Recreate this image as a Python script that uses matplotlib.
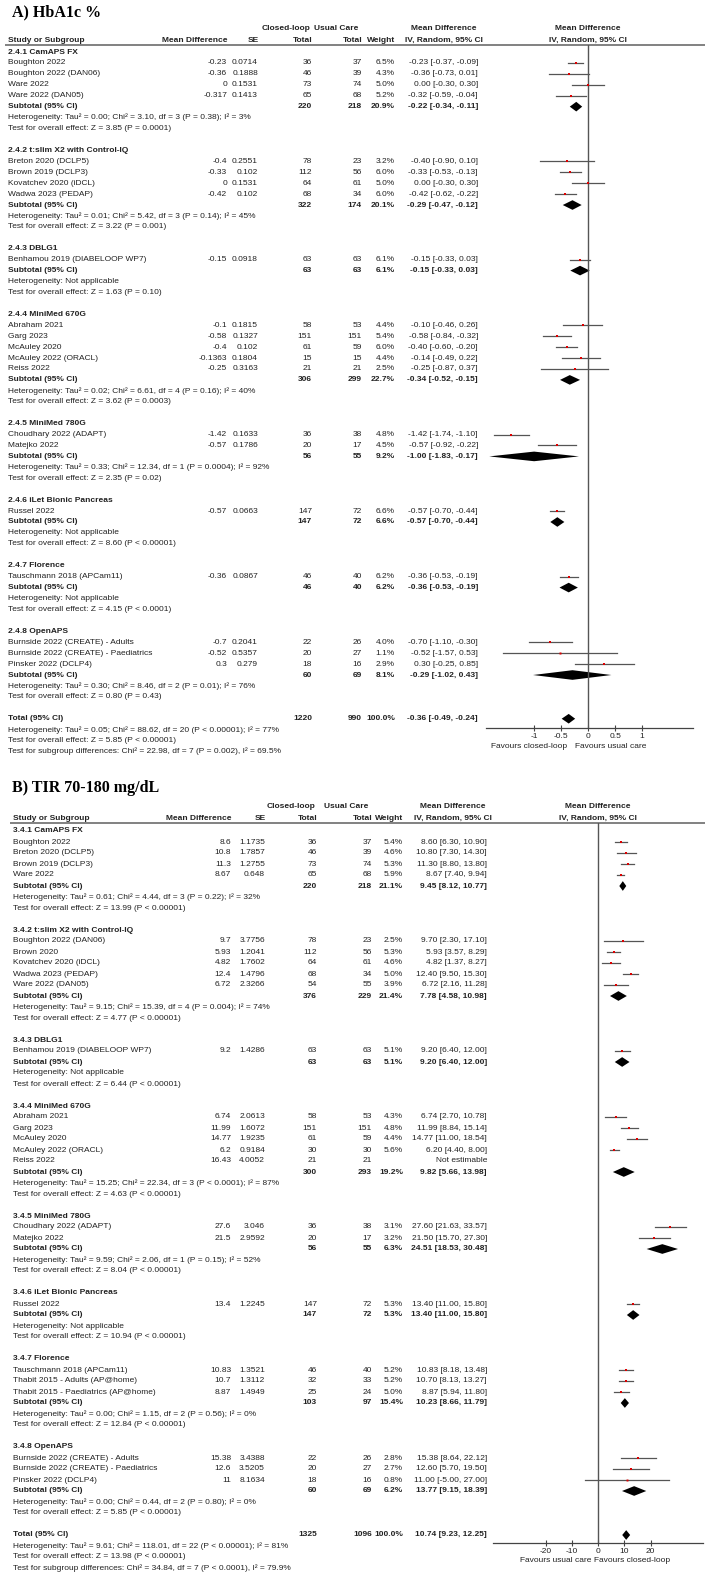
import numpy as np
import matplotlib.pyplot as plt

W, H = 708, 1575

# ---------------- A) HbA1c % ----------------
a_groups = ['2.4.1 CamAPS FX', '2.4.2 t:slim X2 with Control-IQ', '2.4.3 DBLG1',
            '2.4.4 MiniMed 670G', '2.4.5 MiniMed 780G', '2.4.6 iLet Bionic Pancreas',
            '2.4.7 Florence', '2.4.8 OpenAPS']
a_study = ['Boughton 2022', 'Boughton 2022 (DAN06)', 'Ware 2022', 'Ware 2022 (DAN05)',
           'Breton 2020 (DCLP5)', 'Brown 2019 (DCLP3)', 'Kovatchev 2020 (iDCL)', 'Wadwa 2023 (PEDAP)',
           'Benhamou 2019 (DIABELOOP WP7)',
           'Abraham 2021', 'Garg 2023', 'McAuley 2020', 'McAuley 2022 (ORACL)', 'Reiss 2022',
           'Choudhary 2022 (ADAPT)', 'Matejko 2022',
           'Russel 2022',
           'Tauschmann 2018 (APCam11)',
           'Burnside 2022 (CREATE) - Adults', 'Burnside 2022 (CREATE) - Paediatrics', 'Pinsker 2022 (DCLP4)']
a_grp = [0, 0, 0, 0, 1, 1, 1, 1, 2, 3, 3, 3, 3, 3, 4, 4, 5, 6, 7, 7, 7]
a_md = [-0.23, -0.36, 0, -0.317, -0.4, -0.33, 0, -0.42, -0.15, -0.1, -0.58, -0.4, -0.1363, -0.25,
        -1.42, -0.57, -0.57, -0.36, -0.7, -0.52, 0.3]
a_se = [0.0714, 0.1888, 0.1531, 0.1413, 0.2551, 0.102, 0.1531, 0.102, 0.0918, 0.1815, 0.1327, 0.102,
        0.1804, 0.3163, 0.1633, 0.1786, 0.0663, 0.0867, 0.2041, 0.5357, 0.279]
a_n1 = [36, 46, 73, 65, 78, 112, 64, 68, 63, 58, 151, 61, 15, 21, 36, 20, 147, 46, 22, 20, 18]
a_n2 = [37, 39, 74, 68, 23, 56, 61, 34, 63, 53, 151, 59, 15, 21, 38, 17, 72, 40, 26, 27, 16]
a_wt = [6.5, 4.3, 5.0, 5.2, 3.2, 6.0, 5.0, 6.0, 6.1, 4.4, 5.4, 6.0, 4.4, 2.5, 4.8, 4.5, 6.6, 6.2, 4.0, 1.1, 2.9]
a_est = [-0.23, -0.36, 0.00, -0.32, -0.40, -0.33, 0.00, -0.42, -0.15, -0.10, -0.58, -0.40, -0.14, -0.25,
         -1.42, -0.57, -0.57, -0.36, -0.70, -0.52, 0.30]
a_lo = [-0.37, -0.73, -0.30, -0.59, -0.90, -0.53, -0.30, -0.62, -0.33, -0.46, -0.84, -0.60, -0.49, -0.87,
        -1.74, -0.92, -0.70, -0.53, -1.10, -1.57, -0.25]
a_hi = [-0.09, 0.01, 0.30, -0.04, 0.10, -0.13, 0.30, -0.22, 0.03, 0.26, -0.32, -0.20, 0.22, 0.37,
        -1.10, -0.22, -0.44, -0.19, -0.30, 0.53, 0.85]
a_sub_n1 = [220, 322, 63, 306, 56, 147, 46, 60]
a_sub_n2 = [218, 174, 63, 299, 55, 72, 40, 69]
a_sub_wt = [20.9, 20.1, 6.1, 22.7, 9.2, 6.6, 6.2, 8.1]
a_sub_est = [-0.22, -0.29, -0.15, -0.34, -1.00, -0.57, -0.36, -0.29]
a_sub_lo = [-0.34, -0.47, -0.33, -0.52, -1.83, -0.70, -0.53, -1.02]
a_sub_hi = [-0.11, -0.12, 0.03, -0.15, -0.17, -0.44, -0.19, 0.43]
a_het = ['Tau² = 0.00; Chi² = 3.10, df = 3 (P = 0.38); I² = 3%',
         'Tau² = 0.01; Chi² = 5.42, df = 3 (P = 0.14); I² = 45%',
         'Not applicable',
         'Tau² = 0.02; Chi² = 6.61, df = 4 (P = 0.16); I² = 40%',
         'Tau² = 0.33; Chi² = 12.34, df = 1 (P = 0.0004); I² = 92%',
         'Not applicable',
         'Not applicable',
         'Tau² = 0.30; Chi² = 8.46, df = 2 (P = 0.01); I² = 76%']
a_z = ['Z = 3.85 (P = 0.0001)', 'Z = 3.22 (P = 0.001)', 'Z = 1.63 (P = 0.10)', 'Z = 3.62 (P = 0.0003)',
       'Z = 2.35 (P = 0.02)', 'Z = 8.60 (P < 0.00001)', 'Z = 4.15 (P < 0.0001)', 'Z = 0.80 (P = 0.43)']
a_tot = [1220, 990, 100.0, -0.36, -0.49, -0.24]
a_tot_lines = ['Heterogeneity: Tau² = 0.05; Chi² = 88.62, df = 20 (P < 0.00001); I² = 77%',
               'Test for overall effect: Z = 5.85 (P < 0.00001)',
               'Test for subgroup differences: Chi² = 22.98, df = 7 (P = 0.002), I² = 69.5%']
a_ticks = [-1, -0.5, 0, 0.5, 1]
a_tick_labels = ['-1', '-0.5', '0', '0.5', '1']
a_fav = ['Favours closed-loop', 'Favours usual care']

# ---------------- B) TIR 70-180 mg/dL ----------------
b_groups = ['3.4.1 CamAPS FX', '3.4.2 t:slim X2 with Control-IQ', '3.4.3 DBLG1',
            '3.4.4 MiniMed 670G', '3.4.5 MiniMed 780G', '3.4.6 iLet Bionic Pancreas',
            '3.4.7 Florence', '3.4.8 OpenAPS']
b_study = ['Boughton 2022', 'Breton 2020 (DCLP5)', 'Brown 2019 (DCLP3)', 'Ware 2022',
           'Boughton 2022 (DAN06)', 'Brown 2020', 'Kovatchev 2020 (iDCL)', 'Wadwa 2023 (PEDAP)', 'Ware 2022 (DAN05)',
           'Benhamou 2019 (DIABELOOP WP7)',
           'Abraham 2021', 'Garg 2023', 'McAuley 2020', 'McAuley 2022 (ORACL)', 'Reiss 2022',
           'Choudhary 2022 (ADAPT)', 'Matejko 2022',
           'Russel 2022',
           'Tauschmann 2018 (APCam11)', 'Thabit 2015 - Adults (AP@home)', 'Thabit 2015 - Paediatrics (AP@home)',
           'Burnside 2022 (CREATE) - Adults', 'Burnside 2022 (CREATE) - Paediatrics', 'Pinsker 2022 (DCLP4)']
b_grp = [0, 0, 0, 0, 1, 1, 1, 1, 1, 2, 3, 3, 3, 3, 3, 4, 4, 5, 6, 6, 6, 7, 7, 7]
b_md = [8.6, 10.8, 11.3, 8.67, 9.7, 5.93, 4.82, 12.4, 6.72, 9.2, 6.74, 11.99, 14.77, 6.2, 16.43,
        27.6, 21.5, 13.4, 10.83, 10.7, 8.87, 15.38, 12.6, 11]
b_se = [1.1735, 1.7857, 1.2755, 0.648, 3.7756, 1.2041, 1.7602, 1.4796, 2.3266, 1.4286, 2.0613, 1.6072,
        1.9235, 0.9184, 4.0052, 3.046, 2.9592, 1.2245, 1.3521, 1.3112, 1.4949, 3.4388, 3.5205, 8.1634]
b_n1 = [36, 46, 73, 65, 78, 112, 64, 68, 54, 63, 58, 151, 61, 30, 21, 36, 20, 147, 46, 32, 25, 22, 20, 18]
b_n2 = [37, 39, 74, 68, 23, 56, 61, 34, 55, 63, 53, 151, 59, 30, 21, 38, 17, 72, 40, 33, 24, 26, 27, 16]
b_wt = [5.4, 4.6, 5.3, 5.9, 2.5, 5.3, 4.6, 5.0, 3.9, 5.1, 4.3, 4.8, 4.4, 5.6, None,
        3.1, 3.2, 5.3, 5.2, 5.2, 5.0, 2.8, 2.7, 0.8]
b_est = [8.60, 10.80, 11.30, 8.67, 9.70, 5.93, 4.82, 12.40, 6.72, 9.20, 6.74, 11.99, 14.77, 6.20, None,
         27.60, 21.50, 13.40, 10.83, 10.70, 8.87, 15.38, 12.60, 11.00]
b_lo = [6.30, 7.30, 8.80, 7.40, 2.30, 3.57, 1.37, 9.50, 2.16, 6.40, 2.70, 8.84, 11.00, 4.40, None,
        21.63, 15.70, 11.00, 8.18, 8.13, 5.94, 8.64, 5.70, -5.00]
b_hi = [10.90, 14.30, 13.80, 9.94, 17.10, 8.29, 8.27, 15.30, 11.28, 12.00, 10.78, 15.14, 18.54, 8.00, None,
        33.57, 27.30, 15.80, 13.48, 13.27, 11.80, 22.12, 19.50, 27.00]
b_sub_n1 = [220, 376, 63, 300, 56, 147, 103, 60]
b_sub_n2 = [218, 229, 63, 293, 55, 72, 97, 69]
b_sub_wt = [21.1, 21.4, 5.1, 19.2, 6.3, 5.3, 15.4, 6.2]
b_sub_est = [9.45, 7.78, 9.20, 9.82, 24.51, 13.40, 10.23, 13.77]
b_sub_lo = [8.12, 4.58, 6.40, 5.66, 18.53, 11.00, 8.66, 9.15]
b_sub_hi = [10.77, 10.98, 12.00, 13.98, 30.48, 15.80, 11.79, 18.39]
b_het = ['Tau² = 0.61; Chi² = 4.44, df = 3 (P = 0.22); I² = 32%',
         'Tau² = 9.15; Chi² = 15.39, df = 4 (P = 0.004); I² = 74%',
         'Not applicable',
         'Tau² = 15.25; Chi² = 22.34, df = 3 (P < 0.0001); I² = 87%',
         'Tau² = 9.59; Chi² = 2.06, df = 1 (P = 0.15); I² = 52%',
         'Not applicable',
         'Tau² = 0.00; Chi² = 1.15, df = 2 (P = 0.56); I² = 0%',
         'Tau² = 0.00; Chi² = 0.44, df = 2 (P = 0.80); I² = 0%']
b_z = ['Z = 13.99 (P < 0.00001)', 'Z = 4.77 (P < 0.00001)', 'Z = 6.44 (P < 0.00001)', 'Z = 4.63 (P < 0.00001)',
       'Z = 8.04 (P < 0.00001)', 'Z = 10.94 (P < 0.00001)', 'Z = 12.84 (P < 0.00001)', 'Z = 5.85 (P < 0.00001)']
b_tot = [1325, 1096, 100.0, 10.74, 9.23, 12.25]
b_tot_lines = ['Heterogeneity: Tau² = 9.61; Chi² = 118.01, df = 22 (P < 0.00001); I² = 81%',
               'Test for overall effect: Z = 13.98 (P < 0.00001)',
               'Test for subgroup differences: Chi² = 34.84, df = 7 (P < 0.0001), I² = 79.9%']
b_ticks = [-20, -10, 0, 10, 20]
b_tick_labels = ['-20', '-10', '0', '10', '20']
b_fav = ['Favours usual care', 'Favours closed-loop']

FONT = 'Liberation Sans'
TXT = '#222222'
FS = 6.0
FS_SMALL = 6.0

fig = plt.figure(figsize=(W / 100, H / 100), dpi=100)
bg = fig.add_axes([0, 0, 1, 1])
bg.set_xlim(0, W)
bg.set_ylim(H, 0)
bg.axis('off')


def t(x, y, s, ha='left', bold=False, fs=FS):
    bg.text(x, y, s, ha=ha, va='center', fontsize=fs, family=FONT, color=TXT,
            fontweight='bold' if bold else 'normal')


def ci_str(e, l, h):
    return '%.2f [%.2f, %.2f]' % (e, l, h)


def panel(title, title_y, hdr_y, rule_y, y0, rh, axis_y, cols, ax_x, xlim, ticks, tick_labels, fav, fav_x,
          groups, study, grp, md, se, n1, n2, wt, est, lo, hi,
          sub_n1, sub_n2, sub_wt, sub_est, sub_lo, sub_hi, het, z, tot, tot_lines):
    xn, xmd, xse, xn1, xn2, xwt, xci, xfp = cols
    bg.text(12, title_y, title, ha='left', va='center', fontsize=11.5, family='Liberation Serif',
            fontweight='bold', color='black')
    # header
    t(xn1 - 2, hdr_y[0], 'Closed-loop', 'right', True)
    t(xn2 - 4, hdr_y[0], 'Usual Care', 'right', True)
    t(xci - 34, hdr_y[0], 'Mean Difference', 'center', True)
    t(xfp, hdr_y[0], 'Mean Difference', 'center', True)
    t(xn, hdr_y[1], 'Study or Subgroup', 'left', True)
    t(xmd, hdr_y[1], 'Mean Difference', 'right', True)
    t(xse + 1, hdr_y[1], 'SE', 'right', True)
    t(xn1, hdr_y[1], 'Total', 'right', True)
    t(xn2, hdr_y[1], 'Total', 'right', True)
    t(xwt, hdr_y[1], 'Weight', 'right', True)
    t(xci + 5, hdr_y[1], 'IV, Random, 95% CI', 'right', True)
    t(xfp, hdr_y[1], 'IV, Random, 95% CI', 'center', True)
    bg.plot([xn - 3, 705], [rule_y, rule_y], color='#777777', lw=1.3, solid_capstyle='butt')

    fax = fig.add_axes([ax_x[0] / W, 1 - axis_y / H, (ax_x[1] - ax_x[0]) / W, (axis_y - rule_y) / H])
    fax.set_xlim(xlim)
    fax.set_ylim(axis_y, rule_y)
    fax.patch.set_alpha(0)
    for s in ['top', 'left', 'right']:
        fax.spines[s].set_visible(False)
    fax.spines['bottom'].set_color('#444444')
    fax.spines['bottom'].set_linewidth(0.9)
    fax.set_yticks([])
    fax.set_xticks(ticks)
    fax.set_xticklabels(tick_labels, fontsize=FS, family=FONT, color=TXT)
    fax.tick_params(axis='x', direction='inout', length=5, width=0.8, color='#444444', pad=1)
    fax.axvline(0, color='#555555', lw=1.0)
    dh = 0.44 * rh

    r = 0
    for g in range(len(groups)):
        t(xn, y0 + r * rh, groups[g], 'left', True)
        r += 1
        for i in [k for k in range(len(study)) if grp[k] == g]:
            y = y0 + r * rh
            t(xn, y, study[i])
            t(xmd, y, '%g' % md[i], 'right')
            t(xse, y, '%g' % se[i], 'right')
            t(xn1, y, str(n1[i]), 'right')
            t(xn2, y, str(n2[i]), 'right')
            if est[i] is None:
                t(xci, y, 'Not estimable', 'right')
            else:
                t(xwt, y, '%.1f%%' % wt[i], 'right')
                t(xci, y, ci_str(est[i], lo[i], hi[i]), 'right')
                fax.plot([lo[i], hi[i]], [y, y], color='#555555', lw=0.9)
                fax.plot(est[i], y, 's', color='#dd0000', ms=1.3 + 0.12 * wt[i], mew=0)
            r += 1
        y = y0 + r * rh
        t(xn, y, 'Subtotal (95% CI)', 'left', True)
        t(xn1, y, str(sub_n1[g]), 'right', True)
        t(xn2, y, str(sub_n2[g]), 'right', True)
        t(xwt, y, '%.1f%%' % sub_wt[g], 'right', True)
        t(xci, y, ci_str(sub_est[g], sub_lo[g], sub_hi[g]), 'right', True)
        fax.fill([sub_lo[g], sub_est[g], sub_hi[g], sub_est[g]], [y, y - dh, y, y + dh],
                 color='black', lw=0)
        r += 1
        t(xn, y0 + r * rh, 'Heterogeneity: ' + het[g], fs=FS_SMALL)
        r += 1
        t(xn, y0 + r * rh, 'Test for overall effect: ' + z[g], fs=FS_SMALL)
        r += 2
    y = y0 + r * rh
    t(xn, y, 'Total (95% CI)', 'left', True)
    t(xn1, y, str(tot[0]), 'right', True)
    t(xn2, y, str(tot[1]), 'right', True)
    t(xwt, y, '%.1f%%' % tot[2], 'right', True)
    t(xci, y, ci_str(tot[3], tot[4], tot[5]), 'right', True)
    fax.fill([tot[4], tot[3], tot[5], tot[3]], [y, y - dh, y, y + dh], color='black', lw=0)
    for line in tot_lines:
        r += 1
        t(xn, y0 + r * rh, line, fs=FS_SMALL)
    # favours labels
    fax.text(fav_x[0], axis_y + 18, fav[0], ha='right', va='center', fontsize=FS, family=FONT,
             color=TXT, clip_on=False)
    fax.text(fav_x[1], axis_y + 18, fav[1], ha='left', va='center', fontsize=FS, family=FONT,
             color=TXT, clip_on=False)


panel('A) HbA1c %', 12, (29, 40), 44.5, 52, 10.93, 728,
      (8, 227, 258, 312, 362, 395, 478, 588), (486, 693), (-1.89, 1.94),
      a_ticks, a_tick_labels, a_fav, (-0.38, -0.25),
      a_groups, a_study, a_grp, a_md, a_se, a_n1, a_n2, a_wt, a_est, a_lo, a_hi,
      a_sub_n1, a_sub_n2, a_sub_wt, a_sub_est, a_sub_lo, a_sub_hi, a_het, a_z, a_tot, a_tot_lines)

panel('B) TIR 70-180 mg/dL', 788, (807, 818), 823, 831, 11.0, 1543,
      (13, 231, 265, 317, 372, 403, 487, 598), (493, 703), (-40, 40),
      b_ticks, b_tick_labels, b_fav, (-2.5, -1.5),
      b_groups, b_study, b_grp, b_md, b_se, b_n1, b_n2, b_wt, b_est, b_lo, b_hi,
      b_sub_n1, b_sub_n2, b_sub_wt, b_sub_est, b_sub_lo, b_sub_hi, b_het, b_z, b_tot, b_tot_lines)

fig.savefig('out.png', dpi=100)
